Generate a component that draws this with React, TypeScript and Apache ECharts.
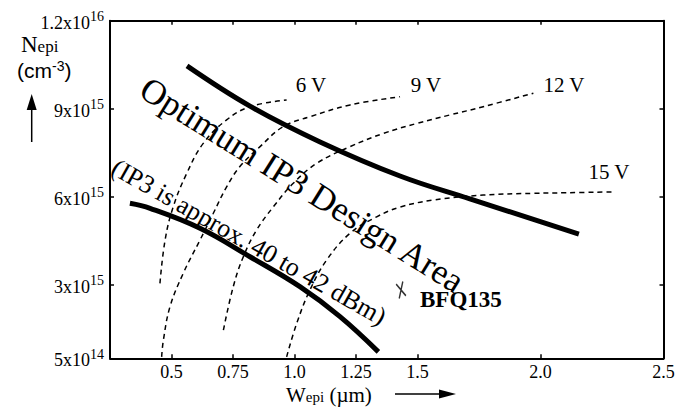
import React, { useEffect, useRef } from "react";
import * as echarts from "echarts";

// ---- axis ticks ----
const xTickValues = [0.5, 0.75, 1.0, 1.25, 1.5, 2.0, 2.5];
const xTickLabels = ["0.5", "0.75", "1.0", "1.25", "1.5", "2.0", "2.5"];
// N_epi in units of 1e15 cm^-3
const yTickValues = [0.5, 3, 6, 9, 12];
const yTickMantissas = ["5", "3", "6", "9", "1.2"];
const yTickExponents = ["14", "15", "15", "15", "16"];

// ---- curves: [W_epi (um), N_epi (1e15 cm^-3)] ----
const upperOptimum = [
  [0.563, 10.46], [0.819, 9.09], [1.104, 7.87], [1.429, 6.71],
  [1.713, 5.93], [2.156, 4.73],
];
const lowerOptimum = [
  [0.331, 5.78], [0.413, 5.61], [0.616, 4.93], [0.819, 3.96], [1.022, 2.94],
  [1.185, 1.92], [1.341, 0.72],
];
const curve6V = [
  [0.453, 3.05], [0.474, 4.53], [0.507, 5.66], [0.562, 6.8], [0.629, 7.82],
  [0.724, 8.62], [0.819, 9.07], [0.968, 9.3],
];
const curve9V = [
  [0.46, 0.55], [0.467, 1.12], [0.494, 2.26], [0.548, 3.4], [0.616, 4.53],
  [0.67, 5.44], [0.724, 6.34], [0.778, 7.03], [0.86, 7.71], [0.954, 8.39],
  [1.063, 8.73], [1.226, 9.13], [1.429, 9.41],
];
const curve12V = [
  [0.711, 1.46], [0.751, 2.94], [0.792, 3.96], [0.846, 4.87], [0.914, 5.66],
  [0.995, 6.46], [1.09, 7.14], [1.226, 7.71], [1.361, 8.16], [1.497, 8.5],
  [1.632, 8.79], [1.767, 9.07], [1.971, 9.53],
];
const curve15V = [
  [0.968, 0.55], [1.009, 1.69], [1.063, 2.83], [1.131, 3.85], [1.226, 4.76],
  [1.334, 5.32], [1.429, 5.65], [1.564, 5.89], [1.767, 6.06], [1.971, 6.12],
  [2.106, 6.14], [2.296, 6.17],
];
const bfq135 = [[1.433, 2.83]];

const voltageLabels = ["6 V", "9 V", "12 V", "15 V"];
const optimumText = "Optimum IP3 Design Area";
const ip3Text = "(IP3 is approx. 40 to 42 dBm)";
const deviceName = "BFQ135";

const SERIF = "'Liberation Serif', 'Times New Roman', serif";
const SANS = "'Liberation Sans', Arial, sans-serif";

const findIdx = (arr: number[], v: number) =>
  arr.findIndex((a) => Math.abs(a - v) < 1e-6);

export default function App() {
  const ref = useRef<HTMLDivElement>(null);

  useEffect(() => {
    document.body.style.margin = "0";
    const chart = echarts.init(ref.current!, undefined, { renderer: "svg" });

    const axisLine = { show: true, onZero: false, lineStyle: { color: "#000", width: 2 } };
    const xTick = {
      show: true, inside: true, length: 4, customValues: xTickValues,
      lineStyle: { color: "#000", width: 1.5 },
    };
    const yTick = {
      show: true, inside: true, length: 4, customValues: yTickValues,
      lineStyle: { color: "#000", width: 1.5 },
    };

    const thick = { color: "#000", width: 5, cap: "butt" };
    const dashed = { color: "#000", width: 1.5, type: [5, 4] };
    const lineSeries = (name: string, data: number[][], style: any) => ({
      name, type: "line", data, smooth: 0.4, showSymbol: false, symbol: "none",
      lineStyle: style, silent: true, z: style.width > 3 ? 3 : 2,
    });

    const t = (x: number, y: number, text: string, fontSize: number, extra: any = {}) => ({
      type: "text", x, y,
      style: {
        text, fontFamily: SERIF, fontSize, fill: "#000",
        align: "center", verticalAlign: "middle", ...extra,
      },
    });

    const option = {
      animation: false,
      backgroundColor: "#fff",
      grid: { left: 110, right: 20.5, top: 20.7, bottom: 51.7, containLabel: false },
      xAxis: [
        {
          type: "value", min: 0.25, max: 2.5, position: "bottom",
          axisLine, axisTick: xTick, splitLine: { show: false },
          axisLabel: {
            show: true, customValues: xTickValues, margin: 5,
            color: "#000", fontFamily: SERIF, fontSize: 18,
            formatter: (v: number) => xTickLabels[findIdx(xTickValues, v)] ?? "",
          },
        },
        {
          type: "value", min: 0.25, max: 2.5, position: "top",
          axisLine, axisTick: xTick, splitLine: { show: false },
          axisLabel: { show: false },
        },
      ],
      yAxis: [
        {
          type: "value", min: 0.5, max: 12, position: "left",
          axisLine, axisTick: yTick, splitLine: { show: false },
          axisLabel: {
            show: true, customValues: yTickValues, margin: 6,
            color: "#000", fontFamily: SERIF,
            formatter: (v: number) => {
              const i = findIdx(yTickValues, v);
              if (i < 0) return "";
              return `{b|${yTickMantissas[i]}x10}{s|${yTickExponents[i]}}`;
            },
            rich: {
              b: { fontFamily: SERIF, fontSize: 18, color: "#000", lineHeight: 22, verticalAlign: "bottom" },
              s: { fontFamily: SERIF, fontSize: 14, color: "#000", lineHeight: 12, verticalAlign: "top" },
            },
          },
        },
        {
          type: "value", min: 0.5, max: 12, position: "right",
          axisLine, axisTick: yTick, splitLine: { show: false },
          axisLabel: { show: false },
        },
      ],
      series: [
        lineSeries("Upper optimum", upperOptimum, thick),
        lineSeries("Lower optimum", lowerOptimum, thick),
        lineSeries("6 V", curve6V, dashed),
        lineSeries("9 V", curve9V, dashed),
        lineSeries("12 V", curve12V, dashed),
        lineSeries("15 V", curve15V, dashed),
        {
          name: deviceName, type: "scatter", data: bfq135,
          symbol: "path://M0,2.5 L12,13.5 M8.2,0 L3.8,16",
          symbolSize: [13, 17], symbolKeepAspect: true,
          itemStyle: { color: "none", borderColor: "#000", borderWidth: 1.6 },
          silent: true, z: 4,
        },
      ],
      graphic: [
        // voltage labels
        t(311, 85, voltageLabels[0], 21),
        t(426, 85, voltageLabels[1], 21),
        t(564, 85, voltageLabels[2], 21),
        t(609, 172, voltageLabels[3], 21),
        // rotated annotations
        { ...t(302, 185, optimumText, 35), rotation: (-32 * Math.PI) / 180 },
        { ...t(249, 242, ip3Text, 26), rotation: (-29.5 * Math.PI) / 180 },
        // device name
        t(420, 299, deviceName, 23, { align: "left", fontWeight: "bold" }),
        // y axis title
        {
          type: "text", x: 21, y: 33,
          style: {
            text: "{n|N}{e|epi}", fill: "#000",
            rich: {
              n: { fontFamily: SERIF, fontSize: 23, lineHeight: 22, verticalAlign: "top", fill: "#000" },
              e: { fontFamily: SERIF, fontSize: 17, lineHeight: 18, verticalAlign: "bottom", fill: "#000" },
            },
          },
        },
        {
          type: "text", x: 17, y: 59,
          style: {
            text: "{c|(cm}{p|-3}{c|)}", fill: "#000",
            rich: {
              c: { fontFamily: SANS, fontSize: 21, lineHeight: 22, verticalAlign: "bottom", fill: "#000" },
              p: { fontFamily: SANS, fontSize: 14, lineHeight: 13, verticalAlign: "top", fill: "#000" },
            },
          },
        },
        {
          type: "line", shape: { x1: 31.7, y1: 142, x2: 31.7, y2: 106 },
          style: { stroke: "#000", lineWidth: 1.5 },
        },
        {
          type: "polygon", shape: { points: [[26.7, 110], [36.7, 110], [31.7, 94]] },
          style: { fill: "#000" },
        },
        // x axis title
        {
          type: "text", x: 286, y: 384,
          style: {
            text: "{w|W}{e|epi}{w| (\u00b5m)}", fill: "#000",
            rich: {
              w: { fontFamily: SERIF, fontSize: 21, lineHeight: 20, verticalAlign: "top", fill: "#000" },
              e: { fontFamily: SERIF, fontSize: 15, lineHeight: 17, verticalAlign: "bottom", fill: "#000" },
            },
          },
        },
        {
          type: "line", shape: { x1: 395, y1: 394, x2: 445, y2: 394 },
          style: { stroke: "#000", lineWidth: 1.5 },
        },
        {
          type: "polygon", shape: { points: [[439, 389.5], [439, 398.5], [456, 394]] },
          style: { fill: "#000" },
        },
      ],
    };

    chart.setOption(option as any);
    return () => chart.dispose();
  }, []);

  return <div ref={ref} style={{ width: 684, height: 410 }} />;
}
